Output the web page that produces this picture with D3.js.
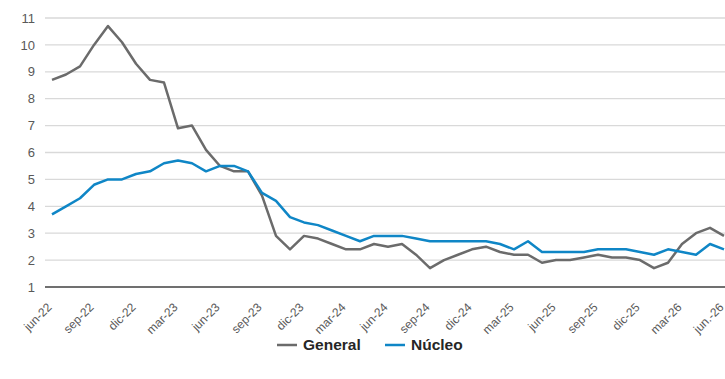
<!DOCTYPE html>
<html><head><meta charset="utf-8">
<script src="https://cdn.jsdelivr.net/npm/d3@7"></script>
<style>
body{margin:0;background:#fff;}
svg{display:block;font-family:"Liberation Sans",Arial,sans-serif;}
</style></head>
<body><svg id="c" width="725" height="379"></svg>
<script>
const months = ["jun-22","jul-22","ago-22","sep-22","oct-22","nov-22","dic-22","ene-23","feb-23","mar-23","abr-23","may-23","jun-23","jul-23","ago-23","sep-23","oct-23","nov-23","dic-23","ene-24","feb-24","mar-24","abr-24","may-24","jun-24","jul-24","ago-24","sep-24","oct-24","nov-24","dic-24","ene-25","feb-25","mar-25","abr-25","may-25","jun-25","jul-25","ago-25","sep-25","oct-25","nov-25","dic-25","ene-26","feb-26","mar-26","abr-26","may-26","jun.-26"];
const general = [8.7,8.9,9.2,10.0,10.7,10.1,9.3,8.7,8.6,6.9,7.0,6.1,5.5,5.3,5.3,4.4,2.9,2.4,2.9,2.8,2.6,2.4,2.4,2.6,2.5,2.6,2.2,1.7,2.0,2.2,2.4,2.5,2.3,2.2,2.2,1.9,2.0,2.0,2.1,2.2,2.1,2.1,2.0,1.7,1.9,2.6,3.0,3.2,2.9];
const nucleo = [3.7,4.0,4.3,4.8,5.0,5.0,5.2,5.3,5.6,5.7,5.6,5.3,5.5,5.5,5.3,4.5,4.2,3.6,3.4,3.3,3.1,2.9,2.7,2.9,2.9,2.9,2.8,2.7,2.7,2.7,2.7,2.7,2.6,2.4,2.7,2.3,2.3,2.3,2.3,2.4,2.4,2.4,2.3,2.2,2.4,2.3,2.2,2.6,2.4];
const tickLabels = ["jun-22","sep-22","dic-22","mar-23","jun-23","sep-23","dic-23","mar-24","jun-24","sep-24","dic-24","mar-25","jun-25","sep-25","dic-25","mar-26","jun.-26"];
const yTicks = [1,2,3,4,5,6,7,8,9,10,11];
const seriesNames = ["General","Núcleo"];
const colors = ["#6b6b6b","#0f86c6"];

const svg = d3.select("#c");
const x = d3.scalePoint().domain(months).range([52, 724]);
const y = d3.scaleLinear().domain([1, 11]).range([287, 18]);

svg.append("g").selectAll("line").data(yTicks.filter(d => d > 1)).join("line")
  .attr("x1", 45).attr("x2", 725)
  .attr("y1", d => y(d)).attr("y2", d => y(d))
  .attr("stroke", "#d9d9d9").attr("stroke-width", 1.3);

const yAxis = d3.axisLeft(y).tickValues(yTicks).tickSize(0).tickPadding(0);
const gy = svg.append("g").attr("transform", "translate(35,0)").call(yAxis);
gy.select(".domain").remove();
gy.selectAll("text").attr("fill", "#595959").attr("font-size", 13).attr("font-family", "Liberation Sans, Arial, sans-serif");

const xAxis = d3.axisBottom(x).tickValues(tickLabels).tickSize(0).tickPadding(0);
const gx = svg.append("g").attr("transform", "translate(0,287)").call(xAxis);
gx.select(".domain").remove();
gx.selectAll("text")
  .attr("fill", "#595959").attr("font-size", 12).attr("font-family", "Liberation Sans, Arial, sans-serif")
  .attr("text-anchor", "end").attr("dy", "0.35em")
  .attr("transform", "translate(-3,18) rotate(-45)")
  .attr("y", 0).attr("x", 0);

svg.append("line").attr("x1", 45).attr("x2", 725).attr("y1", y(1)).attr("y2", y(1))
  .attr("stroke", "#404040").attr("stroke-width", 1.5);

const line = d3.line().x((d, i) => x(months[i])).y(d => y(d));
[general, nucleo].forEach((s, k) => {
  svg.append("path").datum(s).attr("d", line)
    .attr("fill", "none").attr("stroke", colors[k]).attr("stroke-width", 2.5)
    .attr("stroke-linejoin", "round");
});

const lg = svg.append("g").attr("transform", "translate(277,345)");
const lpos = [0, 108];
seriesNames.forEach((n, k) => {
  const g = lg.append("g").attr("transform", `translate(${lpos[k]},0)`);
  g.append("line").attr("x1", 0).attr("x2", 20).attr("y1", 0).attr("y2", 0)
    .attr("stroke", colors[k]).attr("stroke-width", 2.5);
  g.append("text").attr("x", 26).attr("y", 0).attr("dy", "0.35em")
    .attr("font-size", 15.5).attr("font-weight", "bold").attr("fill", "#262626").text(n);
});
</script></body></html>
